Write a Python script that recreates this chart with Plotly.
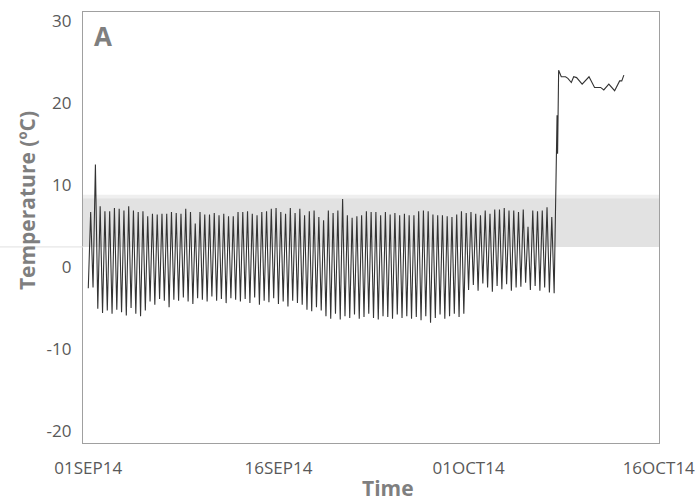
import pandas as pd
import plotly.graph_objects as go

# ---- data ----
start_low = -2.6
cycle_highs = [6.7, 12.5, 7.4, 6.8, 6.8, 7.2, 7.1, 6.9, 7.4, 6.9,
               6.7, 6.8, 6.2, 6.5, 6.4, 6.5, 6.5, 6.7, 6.6, 6.5,
               7.1, 6.7, 5.3, 6.7, 6.4, 6.4, 6.6, 6.3, 6.5, 6.2,
               6.2, 6.7, 6.7, 6.8, 6.5, 6.3, 6.7, 6.8, 7.1, 7.2,
               6.7, 6.5, 7.2, 6.6, 7.1, 6.3, 6.8, 6.9, 6.1, 5.7,
               6.9, 6.6, 6.9, 8.3, 6.3, 6.0, 6.2, 6.3, 6.8, 6.7,
               6.7, 6.3, 6.7, 6.4, 6.6, 6.3, 6.5, 6.3, 6.3, 6.8,
               6.9, 6.8, 6.4, 6.3, 6.3, 6.2, 6.1, 6.4, 6.8, 6.6,
               6.7, 6.5, 6.3, 6.9, 6.5, 7.0, 7.0, 7.2, 6.9, 6.9,
               6.7, 7.0, 4.9, 6.9, 6.8, 6.9, 7.3, 6.1]
cycle_lows = [-2.5, -5.1, -5.6, -5.3, -5.7, -5.2, -5.5, -5.9, -5.0, -5.7,
              -6.0, -5.3, -4.2, -4.6, -3.9, -4.1, -4.9, -4.0, -4.1, -3.7,
              -4.2, -4.5, -3.8, -4.0, -4.2, -3.6, -4.1, -3.9, -4.4, -3.8,
              -4.0, -4.2, -3.9, -4.4, -3.7, -4.6, -4.1, -4.3, -3.8, -4.5,
              -4.2, -4.8, -4.1, -4.4, -4.6, -5.2, -5.4, -4.9, -5.3, -6.0,
              -6.3, -5.7, -6.4, -6.0, -6.2, -5.8, -6.3, -6.1, -5.7, -6.2,
              -6.4, -6.0, -6.1, -6.3, -5.8, -6.2, -6.0, -6.3, -6.1, -6.5,
              -6.0, -6.8, -6.2, -5.8, -6.3, -6.0, -5.7, -6.1, -5.7, -2.8,
              -2.2, -2.9, -2.0, -2.5, -3.0, -2.3, -2.7, -2.1, -2.9, -2.5,
              -2.4, -1.9, -2.8, -2.3, -2.9, -2.5, -3.1, -3.2]

after_times = ["2014-10-07 23:30", "2014-10-08 00:30", "2014-10-08 02:30",
               "2014-10-08 07:30", "2014-10-08 15:30", "2014-10-08 20:00",
               "2014-10-09 02:30", "2014-10-09 07:00", "2014-10-09 12:30",
               "2014-10-09 23:00", "2014-10-10 12:00", "2014-10-10 22:30",
               "2014-10-11 10:00", "2014-10-11 16:00", "2014-10-12 01:30",
               "2014-10-12 12:30", "2014-10-12 22:00", "2014-10-13 02:00",
               "2014-10-13 06:00"]
after_values = [18.5, 13.8, 24.0,
                23.2, 23.2, 23.0,
                22.5, 23.2, 23.1,
                22.3, 23.2, 21.9,
                21.9, 21.6, 22.3,
                21.5, 22.7, 22.7,
                23.4]

band_low, band_high = 2.45, 8.4

tick_dates = ["2014-09-01", "2014-09-16", "2014-10-01", "2014-10-16"]
tick_labels = ["01SEP14", "16SEP14", "01OCT14", "16OCT14"]
y_ticks = [-20, -10, 0, 10, 20, 30]

# ---- build the series ----
osc_values = [start_low]
for h, l in zip(cycle_highs, cycle_lows):
    osc_values += [h, l]
osc_times = pd.date_range("2014-09-01 00:00", periods=len(osc_values), freq="4.5h")

times = list(osc_times) + list(pd.to_datetime(after_times))
values = osc_values + after_values

fig = go.Figure()
fig.add_trace(go.Scatter(x=times, y=values, mode="lines",
                         line=dict(color="#333333", width=1.1),
                         showlegend=False, hoverinfo="skip"))

# shaded band
fig.add_shape(type="rect", xref="paper", yref="y", x0=0, x1=1,
              y0=band_high, y1=band_high + 0.4, fillcolor="#efefef",
              line_width=0, layer="below")
fig.add_shape(type="rect", xref="paper", yref="y", x0=0, x1=1,
              y0=band_low, y1=band_high, fillcolor="#e2e2e2",
              line_width=0, layer="below")
fig.add_shape(type="line", xref="paper", yref="y", x0=-0.15, x1=0,
              y0=band_low, y1=band_low, line=dict(color="#e0e0e0", width=1))

axis_col = "#a0a0a0"
fam = "Open Sans, Liberation Sans, sans-serif"
tick_font = dict(family=fam, size=17, color="#595959")
title_font = dict(family=fam, size=21, color="#7f7f7f")

fig.update_layout(
    width=695, height=503,
    margin=dict(l=83, r=36, t=12, b=60, autoexpand=False),
    paper_bgcolor="white", plot_bgcolor="white",
    xaxis=dict(type="date",
               range=["2014-08-31 14:00", "2014-10-16 00:30"],
               tickvals=tick_dates, ticktext=tick_labels,
               showgrid=False, zeroline=False,
               showline=True, linecolor=axis_col, linewidth=1.3, mirror=True,
               ticks="", ticklabelstandoff=9, tickfont=tick_font,
               ticklabeloverflow="allow"),
    yaxis=dict(range=[-21.46, 31.1], tickvals=y_ticks,
               ticktext=[str(v) for v in y_ticks],
               showgrid=False, zeroline=False,
               showline=True, linecolor=axis_col, linewidth=1.3, mirror=True,
               ticks="", ticklabelstandoff=7, tickfont=tick_font,
               ticklabeloverflow="allow"),
    annotations=[
        dict(text="<b>A</b>", xref="paper", yref="paper", x=0.035, y=0.944,
             xanchor="center", yanchor="middle", showarrow=False,
             font=dict(family=fam, size=26, color="#7f7f7f")),
        dict(text="<b>Temperature (ºC)</b>", xref="paper", yref="paper",
             x=-0.097, y=0.5615, xanchor="center", yanchor="middle",
             textangle=-90, showarrow=False, font=title_font),
        dict(text="<b>Time</b>", xref="paper", yref="paper",
             x=0.5295, y=-0.104, xanchor="center", yanchor="middle",
             showarrow=False, font=title_font),
    ],
)

fig.write_html("out.html", config={"displayModeBar": False},
               post_script="document.body.style.margin='0px';document.body.style.overflow='hidden';")
